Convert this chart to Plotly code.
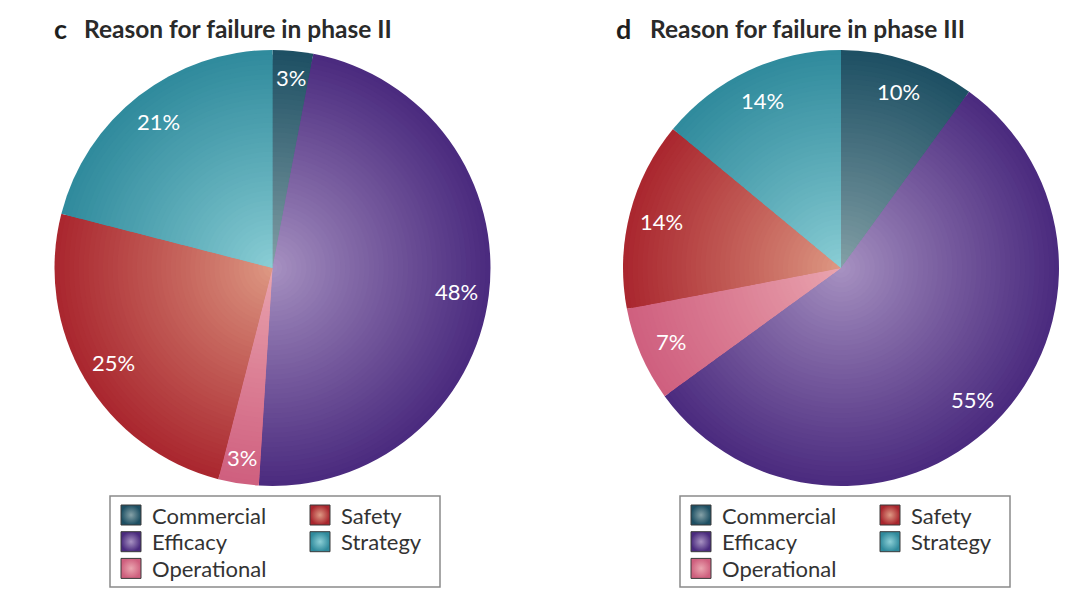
import plotly.graph_objects as go
import math

# ---------------- data ----------------
categories = ["Commercial", "Efficacy", "Operational", "Safety", "Strategy"]
phase2_pct = [3, 48, 3, 25, 21]
phase3_pct = [10, 55, 7, 14, 14]
panel_letters = ["c", "d"]
panel_titles = ["Reason for failure in phase II", "Reason for failure in phase III"]

# slice colours: rim colour and lighter centre colour (radial shading)
edge_colors = ["#1d4f63", "#4a2a7e", "#cf5f7e", "#a9262e", "#2f8a9c"]
center_colors = ["#86a2a8", "#a893c2", "#eaa6b0", "#de9a84", "#8ccfd6"]

# ---------------- layout geometry (screen pixels) ----------------
W, H = 1080, 603
OFF = 8  # page body margin
R = 218
pie_centers = [(272.5, 268), (841, 268)]
legend_boxes = [(110, 496, 440, 587), (680, 496, 1010, 587)]
title_x = [(52, 82), (614, 648)]
N_RINGS = 45


def hex2rgb(h):
    h = h.lstrip("#")
    return tuple(int(h[i:i + 2], 16) for i in (0, 2, 4))


def lerp(c1, c2, t):
    a, b = hex2rgb(c1), hex2rgb(c2)
    return "rgb(%d,%d,%d)" % tuple(round(a[i] + (b[i] - a[i]) * t) for i in range(3))


fig = go.Figure()

datasets = [phase2_pct, phase3_pct]
annotations = []
shapes = []

for p, values in enumerate(datasets):
    cx, cy = pie_centers[p]
    px, py = cx - OFF, cy - OFF
    # nested pies of decreasing radius -> radial shading
    for k in range(N_RINGS):
        rk = R * (1 - k / N_RINGS)
        t = max(0.0, (rk - R / (2 * N_RINGS)) / R)
        f = t ** 0.9
        cols = [lerp(center_colors[i], edge_colors[i], f) for i in range(len(categories))]
        fig.add_trace(go.Pie(
            labels=categories,
            values=values,
            sort=False,
            direction="clockwise",
            rotation=0,
            marker=dict(colors=cols, line=dict(width=0)),
            textinfo="none",
            hoverinfo="label+percent" if k == 0 else "skip",
            showlegend=False,
            domain=dict(x=[(px - rk) / W, (px + rk) / W],
                        y=[(H - py - rk) / H, (H - py + rk) / H]),
        ))
    # percentage labels at slice mid-angles
    total = sum(values)
    cum = 0
    for i, v in enumerate(values):
        mid = (cum + v / 2) / total * 2 * math.pi
        cum += v
        rf = 0.88 if v < 5 else 0.85
        annotations.append(dict(
            x=cx + rf * R * math.sin(mid), y=cy - rf * R * math.cos(mid),
            xref="x", yref="y", text=f"{v}%", showarrow=False,
            font=dict(family="Lato, sans-serif", size=22, color="#ffffff"),
            xanchor="center", yanchor="middle"))

    # title
    lx, tx = title_x[p]
    annotations.append(dict(x=lx, y=28, xref="x", yref="y", text=f"<b>{panel_letters[p]}</b>",
                            showarrow=False, xanchor="left", yanchor="middle",
                            font=dict(family="Lato, sans-serif", size=27, color="#1e1e1e")))
    annotations.append(dict(x=tx, y=28, xref="x", yref="y", text=f"<b>{panel_titles[p]}</b>",
                            showarrow=False, xanchor="left", yanchor="middle",
                            font=dict(family="Lato, sans-serif", size=24.5, color="#2a2a2a")))

    # legend box
    bx0, by0, bx1, by1 = legend_boxes[p]
    shapes.append(dict(type="rect", xref="x", yref="y", x0=bx0, y0=by0, x1=bx1, y1=by1,
                       line=dict(color="#8a8a8a", width=1.5), fillcolor="rgba(0,0,0,0)"))
    sx, sy = [], []
    for i, name in enumerate(categories):
        col, row = i // 3, i % 3
        swx = bx0 + 21 + col * 189
        swy = 515 + row * 26.7
        sx.append(swx)
        sy.append(swy)
        annotations.append(dict(x=swx + 19, y=swy, xref="x", yref="y", text=name,
                                showarrow=False, xanchor="left", yanchor="middle",
                                font=dict(family="Lato, sans-serif", size=22, color="#333333")))
    fig.add_trace(go.Scatter(
        x=sx, y=sy, mode="markers", showlegend=False, hoverinfo="skip",
        marker=dict(symbol="square", size=20, color=edge_colors,
                    gradient=dict(type="radial", color=center_colors),
                    line=dict(color="#3a3a3a", width=1)),
    ))

fig.update_layout(
    width=W, height=H,
    margin=dict(l=0, r=0, t=0, b=0),
    paper_bgcolor="white", plot_bgcolor="white",
    xaxis=dict(range=[OFF, W + OFF], visible=False, fixedrange=True, domain=[0, 1]),
    yaxis=dict(range=[H + OFF, OFF], visible=False, fixedrange=True, domain=[0, 1]),
    annotations=annotations,
    shapes=shapes,
    showlegend=False,
)

fig.write_html("out.html")
